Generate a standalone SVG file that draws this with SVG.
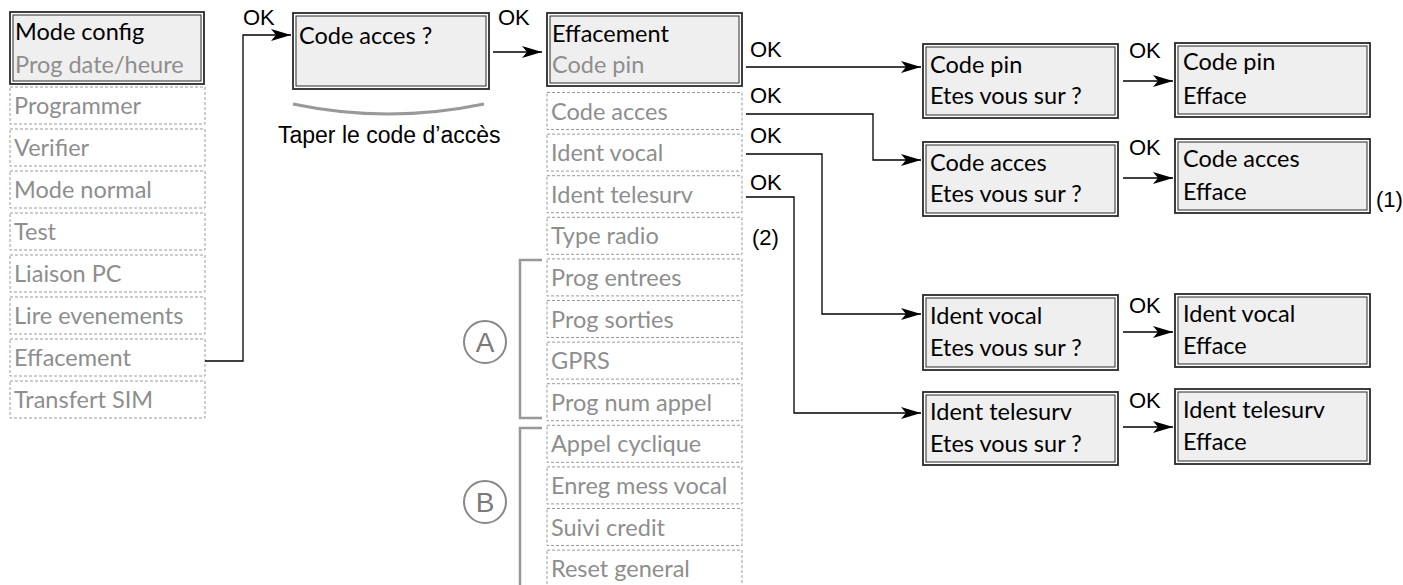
<svg xmlns="http://www.w3.org/2000/svg" width="1403" height="585" viewBox="0 0 1403 585">
<defs>
<marker id="arr" markerUnits="userSpaceOnUse" markerWidth="22" markerHeight="14" refX="20" refY="7" orient="auto">
<path d="M0,1 L20,7 L0,13 L5,7 z" fill="#000"/>
</marker>
<style>
.bo{fill:#fff;stroke:#2a2a2a;stroke-width:1.8}
.bi{fill:#efefef;stroke:#2a2a2a;stroke-width:1}
.dash{fill:#fff;stroke:#9a9a9a;stroke-width:1;stroke-dasharray:3 2}
.t{font-family:Lato,"Noto Sans",sans-serif;font-size:23.5px;fill:#000}
.g{font-family:Lato,"Noto Sans",sans-serif;font-size:23.5px;fill:#8e8e8e}
.a{font-family:"Liberation Sans",Arial,sans-serif;font-size:22px;fill:#000}
.c{fill:none;stroke:#000;stroke-width:1.3}
.br{fill:none;stroke:#999;stroke-width:2.5}
.circ{fill:#fff;stroke:#888;stroke-width:2}
.cl{font-family:"Liberation Sans",Arial,sans-serif;font-size:28px;fill:#7a7a7a;text-anchor:middle}
</style>
</defs>
<rect width="1403" height="585" fill="#fff"/>

<!-- Left column -->
<g id="mode-config">
<rect class="bo" x="10" y="12" width="194" height="72"/>
<rect class="bi" x="13" y="15" width="188" height="66"/>
<text class="t" x="15" y="40">Mode config</text>
<text class="g" x="15" y="73">Prog date/heure</text>
</g>
<g id="programmer"><rect class="dash" x="10" y="87" width="195" height="37"/><text class="g" x="14" y="114">Programmer</text></g>
<g id="verifier"><rect class="dash" x="10" y="129" width="195" height="37"/><text class="g" x="14" y="156">Verifier</text></g>
<g id="mode-normal"><rect class="dash" x="10" y="171" width="195" height="37"/><text class="g" x="14" y="198">Mode normal</text></g>
<g id="test"><rect class="dash" x="10" y="213" width="195" height="37"/><text class="g" x="14" y="240">Test</text></g>
<g id="liaison-pc"><rect class="dash" x="10" y="255" width="195" height="37"/><text class="g" x="14" y="282">Liaison PC</text></g>
<g id="lire-evenements"><rect class="dash" x="10" y="297" width="195" height="37"/><text class="g" x="14" y="324">Lire evenements</text></g>
<g id="effacement-menu"><rect class="dash" x="10" y="339" width="195" height="37"/><text class="g" x="14" y="366">Effacement</text></g>
<g id="transfert-sim"><rect class="dash" x="10" y="381" width="195" height="37"/><text class="g" x="14" y="408">Transfert SIM</text></g>

<!-- Code acces -->
<g id="code-acces-prompt">
<rect class="bo" x="293" y="13" width="196" height="76"/>
<rect class="bi" x="296" y="16" width="190" height="70"/>
<text class="t" x="299" y="44">Code acces ?</text>
</g>
<g id="taper-note">
<path d="M293,104 Q388,124 484,104" fill="none" stroke="#999" stroke-width="3"/>
<text x="278" y="143" font-family="Liberation Sans, Arial, sans-serif" font-size="23" fill="#000">Taper le code d’accès</text>
</g>

<!-- Effacement column -->
<g id="effacement">
<rect class="bo" x="547" y="13" width="195" height="73"/>
<rect class="bi" x="550" y="16" width="189" height="67"/>
<text class="t" x="552" y="42">Effacement</text>
<text class="g" x="552" y="73">Code pin</text>
</g>
<g id="code-acces"><rect class="dash" x="547" y="92.5" width="195" height="37"/><text class="g" x="551" y="119.5">Code acces</text></g>
<g id="ident-vocal"><rect class="dash" x="547" y="134.1" width="195" height="37"/><text class="g" x="551" y="161.1">Ident vocal</text></g>
<g id="ident-telesurv"><rect class="dash" x="547" y="175.7" width="195" height="37"/><text class="g" x="551" y="202.7">Ident telesurv</text></g>
<g id="type-radio"><rect class="dash" x="547" y="217.3" width="195" height="37"/><text class="g" x="551" y="244.3">Type radio</text></g>
<g id="prog-entrees"><rect class="dash" x="547" y="258.9" width="195" height="37"/><text class="g" x="551" y="285.9">Prog entrees</text></g>
<g id="prog-sorties"><rect class="dash" x="547" y="300.5" width="195" height="37"/><text class="g" x="551" y="327.5">Prog sorties</text></g>
<g id="gprs"><rect class="dash" x="547" y="342.1" width="195" height="37"/><text class="g" x="551" y="369.1">GPRS</text></g>
<g id="prog-num-appel"><rect class="dash" x="547" y="383.7" width="195" height="37"/><text class="g" x="551" y="410.7">Prog num appel</text></g>
<g id="appel-cyclique"><rect class="dash" x="547" y="425.3" width="195" height="37"/><text class="g" x="551" y="452.3">Appel cyclique</text></g>
<g id="enreg-mess-vocal"><rect class="dash" x="547" y="466.9" width="195" height="37"/><text class="g" x="551" y="493.9">Enreg mess vocal</text></g>
<g id="suivi-credit"><rect class="dash" x="547" y="508.5" width="195" height="37"/><text class="g" x="551" y="535.5">Suivi credit</text></g>
<g id="reset-general"><rect class="dash" x="547" y="550.1" width="195" height="37"/><text class="g" x="551" y="577.1">Reset general</text></g>

<!-- Brackets -->
<g id="group-a">
<path class="br" d="M542,260 H520 V418 H542"/>
<circle class="circ" cx="485" cy="342" r="21"/>
<text class="cl" x="485" y="352">A</text>
</g>
<g id="group-b">
<path class="br" d="M542,428 H520 V590"/>
<circle class="circ" cx="485" cy="502" r="21"/>
<text class="cl" x="485" y="512">B</text>
</g>

<!-- Confirm boxes -->
<g id="code-pin-confirm">
<rect class="bo" x="923" y="44" width="195" height="74"/>
<rect class="bi" x="926" y="47" width="189" height="68"/>
<text class="t" x="930" y="73">Code pin</text>
<text class="t" x="930" y="104">Etes vous sur ?</text>
</g>
<g id="code-pin-efface">
<rect class="bo" x="1175" y="43" width="195" height="74"/>
<rect class="bi" x="1178" y="46" width="189" height="68"/>
<text class="t" x="1183" y="70">Code pin</text>
<text class="t" x="1183" y="104">Efface</text>
</g>
<g id="code-acces-confirm">
<rect class="bo" x="923" y="142" width="195" height="74"/>
<rect class="bi" x="926" y="145" width="189" height="68"/>
<text class="t" x="930" y="171">Code acces</text>
<text class="t" x="930" y="202">Etes vous sur ?</text>
</g>
<g id="code-acces-efface">
<rect class="bo" x="1175" y="139" width="195" height="74"/>
<rect class="bi" x="1178" y="142" width="189" height="68"/>
<text class="t" x="1183" y="167">Code acces</text>
<text class="t" x="1183" y="200">Efface</text>
<text class="a" x="1376" y="207" font-size="20">(1)</text>
</g>
<g id="ident-vocal-confirm">
<rect class="bo" x="923" y="295" width="195" height="75"/>
<rect class="bi" x="926" y="298" width="189" height="69"/>
<text class="t" x="930" y="324">Ident vocal</text>
<text class="t" x="930" y="356">Etes vous sur ?</text>
</g>
<g id="ident-vocal-efface">
<rect class="bo" x="1175" y="294" width="195" height="73"/>
<rect class="bi" x="1178" y="297" width="189" height="67"/>
<text class="t" x="1183" y="322">Ident vocal</text>
<text class="t" x="1183" y="354">Efface</text>
</g>
<g id="ident-telesurv-confirm">
<rect class="bo" x="923" y="392" width="195" height="73"/>
<rect class="bi" x="926" y="395" width="189" height="67"/>
<text class="t" x="930" y="420">Ident telesurv</text>
<text class="t" x="930" y="452">Etes vous sur ?</text>
</g>
<g id="ident-telesurv-efface">
<rect class="bo" x="1175" y="389" width="195" height="75"/>
<rect class="bi" x="1178" y="392" width="189" height="69"/>
<text class="t" x="1183" y="418">Ident telesurv</text>
<text class="t" x="1183" y="450">Efface</text>
</g>

<text class="a" x="752" y="245" font-size="20">(2)</text>

<!-- Connectors -->
<g id="connectors">
<path class="c" d="M205,361 H243 V35 H291" marker-end="url(#arr)"/>
<text class="a" x="243" y="25">OK</text>
<path class="c" d="M493,52 H542" marker-end="url(#arr)"/>
<text class="a" x="498" y="25">OK</text>
<path class="c" d="M746,67 H921" marker-end="url(#arr)"/>
<text class="a" x="750" y="57">OK</text>
<path class="c" d="M746,114 H873 V160 H921" marker-end="url(#arr)"/>
<text class="a" x="750" y="103">OK</text>
<path class="c" d="M746,154 H822 V314 H921" marker-end="url(#arr)"/>
<text class="a" x="750" y="143">OK</text>
<path class="c" d="M746,197 H794 V413 H921" marker-end="url(#arr)"/>
<text class="a" x="750" y="190">OK</text>
<path class="c" d="M1123,81 H1173" marker-end="url(#arr)"/>
<text class="a" x="1129" y="58">OK</text>
<path class="c" d="M1123,178 H1173" marker-end="url(#arr)"/>
<text class="a" x="1129" y="155">OK</text>
<path class="c" d="M1123,332 H1173" marker-end="url(#arr)"/>
<text class="a" x="1129" y="313">OK</text>
<path class="c" d="M1123,427 H1173" marker-end="url(#arr)"/>
<text class="a" x="1129" y="408">OK</text>
</g>
</svg>
